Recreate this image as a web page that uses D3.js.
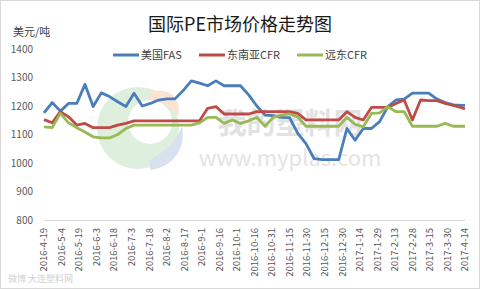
<!DOCTYPE html>
<html>
<head>
<meta charset="utf-8">
<script src="https://cdn.jsdelivr.net/npm/d3@7"></script>
<style>
  html, body { margin: 0; padding: 0; background: #fff; }
  svg { display: block; font-family: "Noto Sans CJK SC", "DejaVu Sans", sans-serif; }
</style>
</head>
<body>
<div id="chart"></div>
<script>
// weekly observation dates
const dates = [
  '2016-04-19', '2016-04-26', '2016-05-03', '2016-05-10', '2016-05-17', '2016-05-24', '2016-05-31',
  '2016-06-07', '2016-06-14', '2016-06-21', '2016-06-28', '2016-07-05', '2016-07-12', '2016-07-19',
  '2016-07-26', '2016-08-02', '2016-08-09', '2016-08-16', '2016-08-23', '2016-08-30', '2016-09-06',
  '2016-09-13', '2016-09-20', '2016-09-27', '2016-10-04', '2016-10-11', '2016-10-18', '2016-10-25',
  '2016-11-01', '2016-11-08', '2016-11-15', '2016-11-22', '2016-11-29', '2016-12-06', '2016-12-13',
  '2016-12-20', '2016-12-27', '2017-01-03', '2017-01-10', '2017-01-17', '2017-01-24', '2017-01-31',
  '2017-02-07', '2017-02-14', '2017-02-21', '2017-02-28', '2017-03-07', '2017-03-14', '2017-03-21',
  '2017-03-28', '2017-04-04', '2017-04-11', '2017-04-14'
];

const usFAS = [
  1176, 1212, 1182, 1209, 1209, 1276, 1198, 1246, 1233, 1215, 1198, 1245, 1200, 1209,
  1221, 1225, 1225, 1254, 1288, 1280, 1271, 1288, 1271, 1271, 1271, 1239, 1200, 1168,
  1166, 1160, 1159, 1104, 1068, 1015, 1012, 1012, 1012, 1121, 1080, 1121, 1121, 1145,
  1198, 1221, 1224, 1245, 1245, 1245, 1224, 1212, 1204, 1202, 1202
];

const seaCFR = [
  1152, 1141, 1180, 1162, 1133, 1139, 1124, 1124, 1124, 1133, 1139, 1148, 1148, 1148,
  1148, 1148, 1148, 1148, 1148, 1148, 1192, 1198, 1172, 1172, 1172, 1172, 1180, 1180,
  1180, 1180, 1180, 1174, 1151, 1151, 1151, 1151, 1151, 1180, 1160, 1151, 1195, 1195,
  1195, 1209, 1221, 1151, 1221, 1219, 1219, 1209, 1202, 1194, 1190
];

const feCFR = [
  1127, 1124, 1174, 1141, 1124, 1109, 1092, 1088, 1088, 1100, 1121, 1133, 1133, 1133,
  1133, 1133, 1133, 1133, 1133, 1141, 1160, 1160, 1139, 1151, 1139, 1148, 1160, 1129,
  1160, 1168, 1172, 1162, 1129, 1129, 1129, 1129, 1129, 1160, 1136, 1127, 1174, 1176,
  1198, 1180, 1180, 1129, 1129, 1129, 1129, 1139, 1129, 1129, 1129
];

const seriesNames = ['美国FAS', '东南亚CFR', '远东CFR'];
const seriesColors = ['#4a7ebb', '#be4b48', '#98b954'];
const yTicks = [800, 900, 1000, 1100, 1200, 1300, 1400];

const width = 480, height = 289;
const parse = d3.timeParse('%Y-%m-%d');
const fmt = d3.timeFormat('%Y-%-m-%-d');
const start = parse(dates[0]), end = parse(dates[dates.length - 1]);

const svg = d3.select('#chart').append('svg').attr('width', width).attr('height', height);

svg.append('rect').attr('x', 0.5).attr('y', 0.5).attr('width', width - 1).attr('height', height - 1)
  .attr('fill', '#fff').attr('stroke', '#d9d9d9');

const x = d3.scaleTime().domain([start, end]).range([44, 465]);
const y = d3.scaleLinear().domain([800, 1400]).range([220, 49]);

// watermark (logo + site name)
const wm = svg.append('g').attr('opacity', 0.45);
wm.append('circle').attr('cx', 138).attr('cy', 128).attr('r', 41).attr('fill', '#b9dcb4');
wm.append('path').attr('d', 'M150,92 C170,86 182,100 178,116 C168,104 158,102 146,106 Z').attr('fill', '#f4c29a');
wm.append('path').attr('d', 'M150,160 C168,150 178,138 182,126 C186,146 176,166 150,170 Z').attr('fill', '#a9bde0');
wm.append('circle').attr('cx', 150).attr('cy', 122).attr('r', 22).attr('fill', '#fff');
svg.append('text').attr('x', 290).attr('y', 134).attr('text-anchor', 'middle')
  .style('font-size', '29px').style('font-weight', 'bold').attr('fill', '#e2e2e2').text('我的塑料网');
svg.append('text').attr('x', 290).attr('y', 166).attr('text-anchor', 'middle')
  .style('font-size', '22px').attr('fill', '#e4e4e4').text('www.myplas.com');
svg.append('text').attr('x', 8).attr('y', 282)
  .style('font-size', '9px').attr('fill', '#d0d0d0').text('微博 大连塑料网');

// title + unit
svg.append('text').attr('x', 240).attr('y', 31).attr('text-anchor', 'middle')
  .style('font-size', '18px').attr('fill', '#1a1a1a').text('国际PE市场价格走势图');
svg.append('text').attr('x', 13).attr('y', 36)
  .style('font-size', '11px').attr('fill', '#404040').text('美元/吨');

// legend
const legendX = [113, 199, 297];
seriesNames.forEach((name, i) => {
  const lg = svg.append('g').attr('transform', `translate(${legendX[i]},55)`);
  lg.append('line').attr('x1', 0).attr('x2', 26).attr('stroke', seriesColors[i]).attr('stroke-width', 3);
  lg.append('text').attr('x', 28).attr('dy', '0.36em').style('font-size', '11px').attr('fill', '#404040').text(name);
});

// y axis labels
svg.append('g').selectAll('text').data(yTicks).join('text')
  .attr('x', 33).attr('y', d => y(d)).attr('dy', '0.35em').attr('text-anchor', 'end')
  .style('font-size', '10px').attr('fill', '#595959').text(d => d);

// x axis, a label every 15 days
svg.append('line').attr('x1', 44).attr('x2', 465).attr('y1', 220.5).attr('y2', 220.5).attr('stroke', '#d9d9d9');
const tickDates = [];
for (let d = start; d <= end; d = d3.timeDay.offset(d, 15)) tickDates.push(d);
svg.append('g').selectAll('text').data(tickDates).join('text')
  .attr('transform', d => `translate(${x(d)},228) rotate(-90)`)
  .attr('dy', '0.35em').attr('text-anchor', 'end')
  .style('font-size', '9.5px').attr('fill', '#595959').text(d => fmt(d));

// lines
const allSeries = [usFAS, seaCFR, feCFR];
const line = d3.line().x((d, i) => x(parse(dates[i]))).y(d => y(d));
allSeries.forEach((vals, i) => {
  svg.append('path').datum(vals).attr('d', line).attr('fill', 'none')
    .attr('stroke', seriesColors[i]).attr('stroke-width', 2.8).attr('stroke-linejoin', 'round');
});
</script>
</body>
</html>
